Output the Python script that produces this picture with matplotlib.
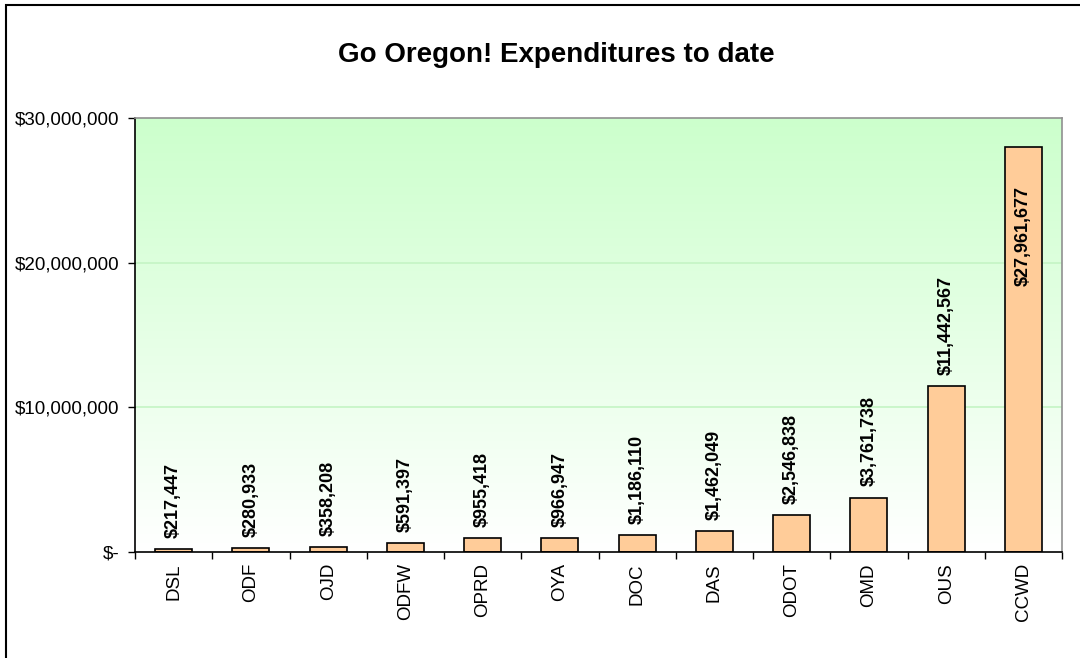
import numpy as np
import matplotlib
matplotlib.use('Agg')
import matplotlib.pyplot as plt
from matplotlib.patches import Rectangle

plt.rcParams['font.family'] = ['Liberation Sans', 'DejaVu Sans']

# Datos
agencias = ['DSL', 'ODF', 'OJD', 'ODFW', 'OPRD', 'OYA', 'DOC', 'DAS',
            'ODOT', 'OMD', 'OUS', 'CCWD']
gastos = [217447, 280933, 358208, 591397, 955418, 966947, 1186110,
          1462049, 2546838, 3761738, 11442567, 27961677]
ticks_y = [0, 10000000, 20000000, 30000000]
etiquetas_y = ['$-', '$10,000,000', '$20,000,000', '$30,000,000']

fig = plt.figure(figsize=(10.8, 6.58), dpi=100)
ax = fig.add_axes([135/1080, 1 - 552/658, (1062 - 135)/1080, (552 - 118)/658])

# borde del grafico (se sale por la derecha y abajo)
fig.patches.append(Rectangle((6/1080, -0.1), 1.2, 1 - 5/658 + 0.1,
                             transform=fig.transFigure, fill=False,
                             edgecolor='black', linewidth=1.5))

# fondo degradado verde -> blanco
grad = np.linspace(0, 1, 256).reshape(-1, 1)
verde = np.array([0.80, 1.0, 0.80])
blanco = np.array([1.0, 1.0, 1.0])
img = blanco + (verde - blanco) * grad
ax.imshow(img.reshape(256, 1, 3), aspect='auto', origin='lower',
          extent=[-0.5, 11.5, 0, 30000000], zorder=0)

for y in ticks_y[1:3]:
    ax.axhline(y, color='#c4f5c4', linewidth=1.2, zorder=1)

x = np.arange(len(agencias))
ax.bar(x, gastos, width=0.48, color='#FFCC99', edgecolor='black',
       linewidth=1.2, zorder=2)

for xi, v in zip(x, gastos):
    texto = '${:,}'.format(v)
    if v > 20000000:
        ax.annotate(texto, (xi, v), xytext=(0, -28), textcoords='offset points',
                    rotation=90, ha='center', va='top', fontsize=13,
                    fontweight='bold', zorder=3)
    else:
        ax.annotate(texto, (xi, v), xytext=(0, 8), textcoords='offset points',
                    rotation=90, ha='center', va='bottom', fontsize=13,
                    fontweight='bold', zorder=3)

ax.set_xlim(-0.5, 11.5)
ax.set_ylim(0, 30000000)
ax.set_yticks(ticks_y)
ax.set_yticklabels(etiquetas_y, fontsize=13.5)
ax.set_xticks(x)
ax.set_xticklabels(agencias, rotation=90, fontsize=13.5)
ax.set_xticks(np.arange(-0.5, 12, 1), minor=True)
ax.tick_params(axis='x', which='major', length=0, pad=8)
ax.tick_params(axis='x', which='minor', length=5, width=1, direction='out')
ax.tick_params(axis='y', length=5, width=1, direction='out', pad=6)

ax.spines['left'].set_color('black')
ax.spines['bottom'].set_color('black')
ax.spines['top'].set_color('#909090')
ax.spines['right'].set_color('#909090')
for s in ax.spines.values():
    s.set_linewidth(1.2)

fig.text(556/1080, 1 - 55/658, 'Go Oregon! Expenditures to date',
         ha='center', va='center', fontsize=20, fontweight='bold')

fig.savefig('out.png', dpi=100)
